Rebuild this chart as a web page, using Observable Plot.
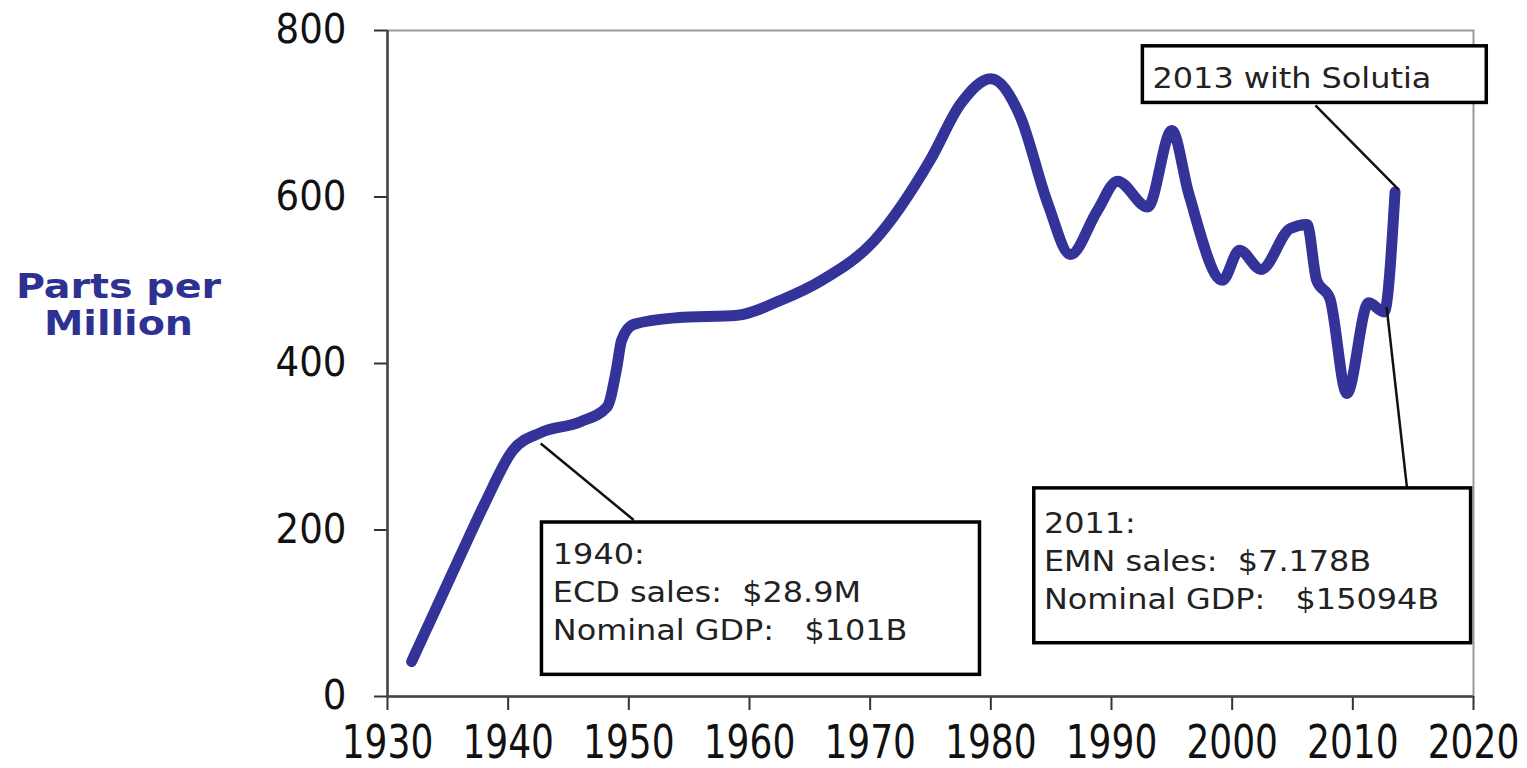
<!DOCTYPE html>
<html><head><meta charset="utf-8">
<script src="https://cdn.jsdelivr.net/npm/d3@7"></script>
<script src="https://cdn.jsdelivr.net/npm/@observablehq/plot@0.6"></script>
<style>
body{margin:0;background:#fff;}
#chart text{white-space:pre;}
</style></head><body><div id="chart"></div>
<script>
// Series
const years = [1932, 1934, 1936, 1938, 1940.4, 1942.7, 1946, 1948.2, 1949, 1949.4, 1950.4, 1954, 1959, 1962.6, 1966, 1970.3, 1975, 1977.5, 1980, 1982.4, 1984.7, 1986.6, 1988.8, 1990.5, 1993, 1995, 1996.4, 1999.2, 2000.6, 2002.4, 2004.8, 2006.2, 2007, 2008.1, 2009.5, 2011.3, 2012.6, 2013.5];
const ppm   = [42, 105, 168, 230, 296, 317, 330, 348, 395, 428, 447, 455, 458, 476, 500, 547, 645, 712, 742, 698, 593, 531, 583, 619, 588, 680, 604, 500, 536, 513, 562, 567, 500, 478, 364, 473, 462, 606];

// Axes
const yTicks = [0, 200, 400, 600, 800];
const xTicks = [1930, 1940, 1950, 1960, 1970, 1980, 1990, 2000, 2010, 2020];
const yLabel = "Parts per\nMillion";

// Annotations (data units)
const noteText = ["1940:\nECD sales:  $28.9M\nNominal GDP:   $101B",
                  "2011:\nEMN sales:  $7.178B\nNominal GDP:   $15094B",
                  "2013 with Solutia"];
const noteX1 = [1942.8, 1983.6, 1992.6];
const noteX2 = [1979.1, 2019.8, 2021.1];
const noteY1 = [26, 64, 713];
const noteY2 = [209, 250, 781];
const noteTX = [1943.7, 1984.4, 1993.4];
const noteTY = [192, 229, 763];
const leadX1 = [1942.7, 2012.8, 2006.9];
const leadY1 = [304, 468, 710];
const leadX2 = [1950.4, 2014.5, 2013.8];
const leadY2 = [212, 249, 609];

const series = years.map((y, i) => ({year: y, value: ppm[i]}));
const notes = noteText.map((t, i) => ({text: t, x1: noteX1[i], x2: noteX2[i], y1: noteY1[i], y2: noteY2[i], tx: noteTX[i], ty: noteTY[i]}));
const leads = leadX1.map((x, i) => ({x1: x, y1: leadY1[i], x2: leadX2[i], y2: leadY2[i]}));

const chart = Plot.plot({
  width: 1527,
  height: 768,
  marginLeft: 387,
  marginRight: 54,
  marginTop: 30,
  marginBottom: 72,
  style: {background: "#fff", color: "#111"},
  x: {domain: [1930, 2020]},
  y: {domain: [0, 800]},
  marks: [
    Plot.frame({stroke: "#9a9a9a", strokeWidth: 2}),
    Plot.axisY({ticks: yTicks, tickSize: 13, tickPadding: 28, label: null, fontSize: 40, fontFamily: "DejaVu Sans", stroke: "#333", strokeWidth: 2, fill: "#111"}),
    Plot.axisX({ticks: xTicks, tickSize: 14, tickPadding: 15, label: null, fontSize: 36, fontFamily: "DejaVu Sans", tickFormat: d => String(d), stroke: "#333", strokeWidth: 2, fill: "#111"}),
    Plot.ruleX([1930], {stroke: "#444", strokeWidth: 2.5}),
    Plot.ruleY([0], {stroke: "#444", strokeWidth: 2.5}),
    Plot.text([yLabel], {frameAnchor: "left", dx: -269, dy: -59, text: d => d, fontWeight: "bold", fontSize: 33, fontFamily: "DejaVu Sans", fill: "#2e3192", lineHeight: 1.12, textAnchor: "middle", className: "ylab"}),
    Plot.line(series, {x: "year", y: "value", stroke: "#33339a", strokeWidth: 11, curve: "monotone-x", strokeLinecap: "round", strokeLinejoin: "round"}),
    Plot.link(leads, {x1: "x1", y1: "y1", x2: "x2", y2: "y2", stroke: "#111", strokeWidth: 2.5}),
    Plot.rect(notes, {x1: "x1", x2: "x2", y1: "y1", y2: "y2", fill: "#fff", stroke: "#000", strokeWidth: 3.5}),
    Plot.text(notes, {x: "tx", y: "ty", text: "text", textAnchor: "start", lineAnchor: "top", fontSize: 27.5, fontFamily: "DejaVu Sans", fill: "#222", lineHeight: 1.38, className: "notes"})
  ]
});
document.getElementById("chart").appendChild(chart);

// Stretch text to the reference's proportions
function stretch(sel, sx, sy) {
  d3.select(chart).selectAll(sel).each(function() {
    const t = this.getAttribute("transform") || "";
    this.setAttribute("transform", t + ` scale(${sx},${sy})`);
  });
}
stretch('g[aria-label="x-axis tick label"] text', 1, 1.28);
stretch('g[aria-label="y-axis tick label"] text', 0.93, 1);
stretch('.ylab text', 1.2, 1);
stretch('.notes text', 1.16, 1);
</script></body></html>
